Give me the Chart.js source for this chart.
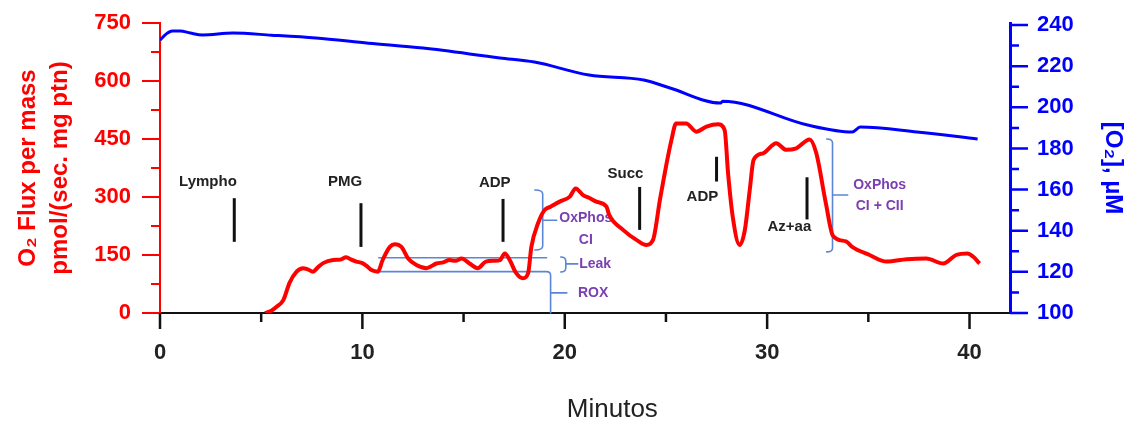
<!DOCTYPE html>
<html><head><meta charset="utf-8">
<script src="https://cdn.jsdelivr.net/npm/chart.js@4/dist/chart.umd.min.js"></script>
<style>html,body{margin:0;padding:0;background:#fff}#wrap{width:1137px;height:423px}</style>
</head><body><div id="wrap"><canvas id="c" width="1137" height="423"></canvas></div>
<script>
// ---- Data (minutes) ----
const fluxT = [5.19,5.5,5.76,6.1,6.4,6.75,7.07,7.3,7.56,7.8,8.06,8.55,8.9,9.2,9.45,9.7,10.0,10.25,10.45,10.77,11.0,11.36,11.6,11.93,12.26,12.67,13.17,13.66,14.0,14.3,14.6,14.9,15.3,15.7,16.1,16.5,16.8,17.04,17.28,17.6,17.94,18.19,18.35,18.68,19.0,19.3,19.75,20.25,20.54,20.9,21.2,21.56,22.06,22.2,22.88,23.54,24.03,24.36,24.7,25.0,25.27,25.5,26.0,26.5,27.0,27.57,27.9,28.07,28.3,28.64,28.9,29.14,29.33,29.8,30.45,30.94,31.44,32.1,32.43,32.9,33.25,33.9,34.2,35.06,35.9,36.9,37.86,38.7,39.34,39.9,40.17,40.5];
const fluxV = [0,6,16,34,78,107,116,113,107,118,129,137,138,144,138,133,129,120,111,107,137,171,178,171,141,124,116,128,131,137,135,141,128,116,133,135,137,154,137,103,90,103,171,232,266,275,288,301,322,305,298,288,275,253,215,189,176,189,292,378,447,490,490,469,482,488,473,361,249,176,215,318,396,413,439,422,426,449,413,284,200,185,171,150,133,139,141,128,150,154,146,128];
const o2T = [0,0.3,0.6,1.0,1.5,2.1,3.6,5.5,7.7,10.3,13.0,16.8,18.5,21.2,23.9,25.2,27.7,27.8,32.0,34.2,34.6,37.4,40.4];
const o2V = [232.7,235.6,237.1,237.1,236.1,235.2,236.1,235.1,233.7,231.2,228.8,224.0,222.0,215.7,213.3,209.4,202.1,203.0,191.4,188.0,190.4,188.0,184.6];

// ---- Ticks ----
const xTicks = [0,10,20,30,40];
const xMinor = [5,15,25,35];
const fluxTicks = [0,150,300,450,600,750];
const fluxMinor = [75,225,375,525,675];
const o2Ticks = [100,120,140,160,180,200,220,240];
const o2Minor = [110,130,150,170,190,210,230];

// ---- Event markers ----
const markerLabels = ['Lympho','PMG','ADP','Succ','ADP','Az+aa'];
const markerT = [3.67,9.93,16.95,23.7,27.5,31.97];
const markerTop = [297,284,295,326,404,351];
const markerBottom = [184,171,184,215,340,242];
const markerLabelT = [2.37,9.14,16.54,23.0,26.8,31.1];
const markerLabelV = [339,339,336,359,300,222];

// ---- Brackets ----
const bracketLabels = [['OxPhos','CI'],['Leak'],['ROX'],['OxPhos','CI + CII']];
const bracketT = [18.91,20.05,19.3,33.23];
const bracketTop = [318,145,107,450];
const bracketBottom = [163,106,0,158];
const bracketArmT = [18.52,19.8,null,32.94];
const bracketMid = [240,127,52,305];
const bracketTipT = [19.6,20.64,20.1,33.98];
const bracketLabelT = [21.04,21.5,21.4,35.56];
const bracketLabelV = [[246,189],[127],[52],[331,277]];
const leakLineStartT = 10.81;
const leakUpper = 143, leakUpperEndT = 19.1;

const xTitle = 'Minutos';
const xTitleCenterT = 22.35;

const FONT = "'Liberation Sans', Arial, sans-serif";
const RED = '#ff0000', BLUE = '#0000ff', BR = '#5b86d6', PURPLE = '#7a3fb0';

const decor = {
  id: 'decor',
  beforeDatasetsDraw(chart) {
    const {ctx, scales: {x, y}} = chart;
    const X = v => x.getPixelForValue(v), Y = v => y.getPixelForValue(v);
    ctx.save();
    ctx.strokeStyle = BR; ctx.lineWidth = 1.6; ctx.lineCap = 'round';
    ctx.beginPath();
    ctx.moveTo(X(leakLineStartT), Y(leakUpper)); ctx.lineTo(X(leakUpperEndT), Y(leakUpper));
    ctx.stroke();
    for (let i = 0; i < bracketT.length; i++) {
      const vx = X(bracketT[i]), ty = Y(bracketTop[i]), by = Y(bracketBottom[i]);
      ctx.beginPath();
      if (bracketArmT[i] === null) {
        ctx.moveTo(X(leakLineStartT), ty);
        ctx.lineTo(vx - 4, ty);
        ctx.quadraticCurveTo(vx, ty, vx, ty + 4);
        ctx.lineTo(vx, by);
      } else {
        const ax = X(bracketArmT[i]);
        ctx.moveTo(ax, ty);
        ctx.quadraticCurveTo(vx, ty, vx, ty + 4);
        ctx.lineTo(vx, by - 4);
        ctx.quadraticCurveTo(vx, by, ax, by);
      }
      ctx.moveTo(vx, Y(bracketMid[i])); ctx.lineTo(X(bracketTipT[i]), Y(bracketMid[i]));
      ctx.stroke();
    }
    ctx.fillStyle = PURPLE; ctx.font = 'bold 14px ' + FONT;
    ctx.textAlign = 'center'; ctx.textBaseline = 'middle';
    for (let i = 0; i < bracketLabels.length; i++) {
      bracketLabels[i].forEach((t, j) => ctx.fillText(t, X(bracketLabelT[i]), Y(bracketLabelV[i][j])));
    }
    ctx.strokeStyle = '#111'; ctx.lineWidth = 3; ctx.lineCap = 'butt';
    for (let i = 0; i < markerT.length; i++) {
      ctx.beginPath();
      ctx.moveTo(X(markerT[i]), Y(markerTop[i])); ctx.lineTo(X(markerT[i]), Y(markerBottom[i]));
      ctx.stroke();
    }
    ctx.fillStyle = '#222'; ctx.font = 'bold 15px ' + FONT;
    for (let i = 0; i < markerLabels.length; i++) {
      ctx.fillText(markerLabels[i], X(markerLabelT[i]), Y(markerLabelV[i]));
    }
    ctx.restore();
  },
  afterDraw(chart) {
    const {ctx, scales: {x, y, y1}} = chart;
    ctx.save();
    const hTick = (sc, vals, len, color, w, side) => {
      ctx.strokeStyle = color; ctx.lineWidth = w; ctx.beginPath();
      vals.forEach(v => {
        const p = sc.getPixelForValue(v);
        if (side === 'left') { ctx.moveTo(sc.right, p); ctx.lineTo(sc.right - len, p); }
        else { ctx.moveTo(sc.left, p); ctx.lineTo(sc.left + len, p); }
      });
      ctx.stroke();
    };
    hTick(y, fluxTicks, 18, RED, 2, 'left');
    hTick(y, fluxMinor, 9, RED, 2, 'left');
    hTick(y1, o2Ticks, 18, BLUE, 2.5, 'right');
    hTick(y1, o2Minor, 9, BLUE, 2.5, 'right');
    ctx.strokeStyle = '#111'; ctx.lineWidth = 2.5; ctx.beginPath();
    xTicks.forEach(v => { const p = x.getPixelForValue(v); ctx.moveTo(p, x.top); ctx.lineTo(p, x.top + 16); });
    xMinor.forEach(v => { const p = x.getPixelForValue(v); ctx.moveTo(p, x.top); ctx.lineTo(p, x.top + 9); });
    ctx.stroke();
    // x-axis title
    ctx.fillStyle = '#222'; ctx.font = '26px ' + FONT;
    ctx.textAlign = 'center'; ctx.textBaseline = 'middle';
    ctx.fillText(xTitle, x.getPixelForValue(xTitleCenterT), x.bottom - 13);
    ctx.restore();
  }
};

const fixV = w => s => { s.width = w; s.paddingTop = 0; s.paddingBottom = 0; };

new Chart(document.getElementById('c'), {
  type: 'line',
  data: {
    datasets: [
      { label: 'O2 Flux', data: fluxT.map((t, i) => ({x: t, y: fluxV[i]})), yAxisID: 'y',
        borderColor: RED, borderWidth: 4, pointRadius: 0, cubicInterpolationMode: 'monotone', fill: false },
      { label: '[O2]', data: o2T.map((t, i) => ({x: t, y: o2V[i]})), yAxisID: 'y1',
        borderColor: BLUE, borderWidth: 3, pointRadius: 0, cubicInterpolationMode: 'monotone', fill: false }
    ]
  },
  options: {
    responsive: false, animation: false, devicePixelRatio: 1,
    layout: { padding: { top: 23, left: 0, right: 0, bottom: 0 } },
    plugins: { legend: { display: false }, tooltip: { enabled: false } },
    scales: {
      x: {
        type: 'linear', position: 'bottom', min: 0, max: 42,
        afterBuildTicks: s => { s.ticks = xTicks.map(v => ({value: v})); },
        afterFit: s => { s.height = 110; },
        grid: { display: false, drawTicks: false },
        border: { display: true, color: '#111', width: 2 },
        ticks: { color: '#222', padding: 27, maxRotation: 0, autoSkip: false,
                 font: { family: FONT, size: 22, weight: 'bold' } },
        title: { display: false }
      },
      y: {
        type: 'linear', position: 'left', min: 0, max: 750,
        afterBuildTicks: s => { s.ticks = fluxTicks.map(v => ({value: v})); },
        afterFit: fixV(160),
        grid: { display: false, drawTicks: false },
        border: { display: true, color: RED, width: 2 },
        ticks: { color: RED, padding: 29, font: { family: FONT, size: 22, weight: 'bold' } },
        title: { display: true, text: ['O₂ Flux per mass', 'pmol/(sec. mg ptn)'], color: RED,
                 font: { family: FONT, size: 24, weight: 'bold', lineHeight: 1.333 }, padding: { top: 12, bottom: 0 } }
      },
      y1: {
        type: 'linear', position: 'right', min: 100, max: 241,
        afterBuildTicks: s => { s.ticks = o2Ticks.map(v => ({value: v})); },
        afterFit: fixV(127),
        grid: { display: false, drawTicks: false },
        border: { display: true, color: BLUE, width: 3 },
        ticks: { color: BLUE, padding: 27, font: { family: FONT, size: 22, weight: 'bold' } },
        title: { display: true, text: '[O₂], µM', color: BLUE,
                 font: { family: FONT, size: 24, weight: 'bold', lineHeight: 1.2 }, padding: { top: 10, bottom: 0 } }
      }
    }
  },
  plugins: [decor]
});
</script></body></html>
